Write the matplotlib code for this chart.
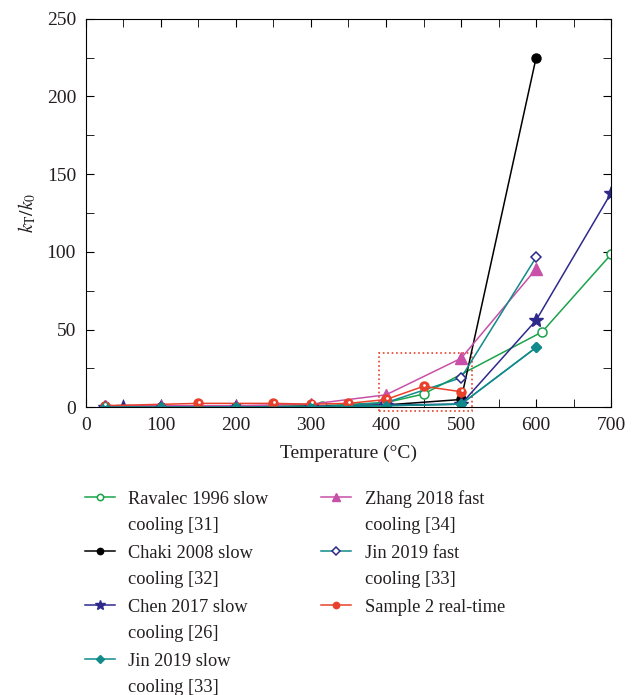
import numpy as np
import matplotlib.pyplot as plt
from matplotlib.lines import Line2D
from matplotlib.patches import Rectangle
from matplotlib.ticker import MultipleLocator
from matplotlib.transforms import ScaledTranslation

plt.rcParams['font.family'] = ['Liberation Serif', 'DejaVu Serif']
plt.rcParams['mathtext.fontset'] = 'stix'
txtc = '#231f20'

# data
t_ravalec = [25, 315, 400, 450, 608, 700]
k_ravalec = [0.5, 1, 3, 8.5, 48.5, 98.5]
t_chaki = [25, 100, 200, 300, 400, 500, 600]
k_chaki = [0, 0, 0, 0.5, 1.5, 5, 225]
t_chen = [25, 50, 100, 200, 300, 400, 500, 600, 700]
k_chen = [0, 0, 0, 0, 0.5, 1.5, 2, 56, 138]
t_jinslow = [25, 100, 200, 300, 400, 500, 600]
k_jinslow = [0, 0, 0, 0, 1, 2, 38.5]
t_zhang = [25, 100, 200, 300, 400, 500, 600]
k_zhang = [1, 1, 1, 2, 8, 31.5, 89]
t_jinfast = [25, 100, 200, 300, 400, 500, 600]
k_jinfast = [0, 0, 0, 0, 3, 19, 96.5]
t_sample = [25, 150, 250, 300, 350, 400, 450, 500]
k_sample = [1, 2.5, 2.5, 2, 2.5, 5, 13.5, 10]

labels = ['Ravalec 1996 slow\ncooling [31]', 'Chaki 2008 slow\ncooling [32]',
          'Chen 2017 slow\ncooling [26]', 'Jin 2019 slow\ncooling [33]',
          'Zhang 2018 fast\ncooling [34]', 'Jin 2019 fast\ncooling [33]',
          'Sample 2 real-time']

fig = plt.figure(figsize=(6.4, 6.95), dpi=100)
ax = fig.add_axes([0.134, 0.414, 0.821, 0.559])

green = '#1aa34a'
teal = '#108a8a'
navy = '#2e2a8c'
pink = '#c850a8'
red = '#e8402a'

styles = [
    dict(color=green, marker='o', ms=6.5, mfc='white', mec=green, mew=1.1),
    dict(color='black', marker='o', ms=6.5, mfc='black', mec='black'),
    dict(color=navy, marker='*', ms=10, mfc=navy, mec=navy),
    dict(color=teal, marker='D', ms=5.5, mfc=teal, mec=teal),
    dict(color=pink, marker='^', ms=8, mfc=pink, mec=pink),
    dict(color=teal, marker='D', ms=5.5, mfc='white', mec=navy, mew=1.1),
    dict(color=red, marker='o', ms=6.5, mfc=red, mec=red),
]
series = [(t_ravalec, k_ravalec), (t_chaki, k_chaki), (t_chen, k_chen),
          (t_jinslow, k_jinslow), (t_zhang, k_zhang), (t_jinfast, k_jinfast),
          (t_sample, k_sample)]

for (t, k), st in zip(series, styles):
    ax.plot(t, k, lw=1.1, **st)
# Jin slow sits on top at low temperature
ax.plot(t_jinslow, k_jinslow, lw=1.1, **styles[3])
# highlight on the sample markers
ax.plot(t_sample, k_sample, ls='none', marker='o', ms=2, mfc='white', mec='none',
        transform=ax.transData + ScaledTranslation(0.5/72, 1.2/72, fig.dpi_scale_trans))

# dotted box around the 400-500 region
ax.add_patch(Rectangle((390, -2.5), 125, 37.5, fill=False, ec=red, ls=':', lw=1.2, clip_on=False))

ax.set_xlim(0, 700)
ax.set_ylim(0, 250)
ax.xaxis.set_major_locator(MultipleLocator(100))
ax.xaxis.set_minor_locator(MultipleLocator(50))
ax.yaxis.set_major_locator(MultipleLocator(50))
ax.yaxis.set_minor_locator(MultipleLocator(25))
ax.tick_params(which='both', direction='in', top=True, right=True, labelsize=14,
               length=6, labelcolor=txtc)
ax.tick_params(axis='x', pad=7)
ax.tick_params(axis='y', pad=7)
ax.set_xlabel('Temperature (°C)', fontsize=14, color=txtc, labelpad=8)
ax.set_ylabel('$k_\\mathrm{T}/k_0$', fontsize=14, color=txtc, labelpad=6)

# legend drawn by hand so the handle sits on the first text line
W, H = 640.0, 695.0
cols = [(85, 128), (321, 365)]
rows = [497, 551, 605, 659]
for i, (lab, st) in enumerate(zip(labels, styles)):
    c = 0 if i < 4 else 1
    r = i if i < 4 else i - 4
    hx, tx = cols[c]
    y = rows[r]
    sm = dict(st)
    sm['ms'] = st['ms'] * 0.7
    fig.add_artist(Line2D([hx / W, (hx + 30) / W], [1 - y / H, 1 - y / H],
                          transform=fig.transFigure, lw=1.1, color=st['color']))
    fig.add_artist(Line2D([(hx + 15) / W], [1 - y / H], transform=fig.transFigure,
                          ls='none', **sm))
    for j, part in enumerate(lab.split('\n')):
        fig.text(tx / W, 1 - (y + 26 * j) / H, part, fontsize=13.2, color=txtc,
                 ha='left', va='center_baseline')

fig.savefig('out.png', dpi=100)
